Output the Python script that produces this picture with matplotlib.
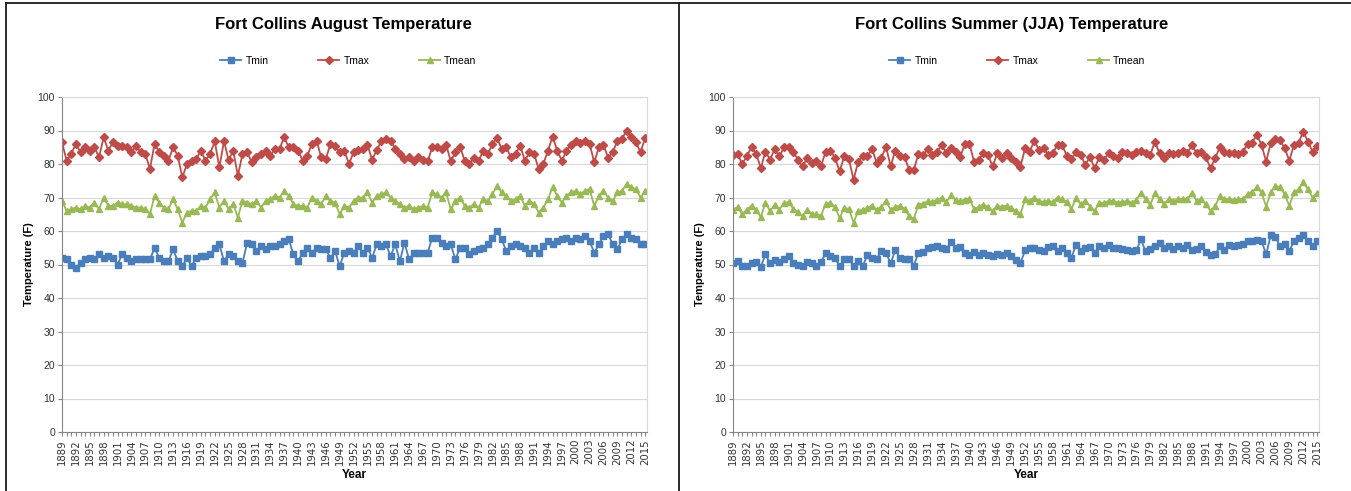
import numpy as np
import matplotlib
matplotlib.use("Agg")
import matplotlib.pyplot as plt
import matplotlib.font_manager as fm
from matplotlib.lines import Line2D

years = list(range(1889, 2016))

# Fort Collins August temperature (F)
aug_tmin = [
    52, 51.5, 50, 49, 50.5, 51.5, 52, 51.5, 53, 52,
    52.5, 52, 50, 53, 52, 51, 51.5, 51.5, 51.5, 51.5,
    55, 52, 51, 51, 54.5, 51, 49.5, 52, 49.5, 52,
    52.5,
    52.5, 53, 55, 56, 51, 53, 52.5, 51, 50.5, 56.5,
    56, 54, 55.5, 54.5, 55.5, 55.5, 56, 57, 57.5, 53,
    51, 53.5, 55, 53.5, 55, 54.5, 54.5, 52, 54, 49.5,
    53.5,
    54, 53.5, 55.5, 53.5, 55, 52, 56, 55.5, 56, 52.5,
    56, 51, 56.5, 51.5, 53.5, 53.5, 53.5, 53.5, 58, 58,
    56.5, 55.5, 56, 51.5, 55, 55, 53, 54, 54.5, 55,
    56, 58, 60, 57.5, 54, 55.5, 56, 55.5, 55, 53.5,
    55, 53.5, 55.5, 57, 56, 57, 57.5, 58, 57, 58,
    57.5, 58.5, 57, 53.5, 56, 58.5, 59, 56, 54.5, 57.5,
    59, 58, 57.5, 56, 56,
]
aug_tmax = [
    86.5, 81, 83, 86, 83.5, 85, 84, 85, 82, 88,
    84, 86.5, 85.5, 85.5, 85, 83.5, 85.5, 83.5, 83, 78.5,
    86, 83.5, 82.5, 81, 85, 82.5, 76, 80, 81, 81.5,
    84,
    81, 83, 86.8, 79, 86.8, 81.2, 84, 76.5, 83, 83.5,
    80.5, 82, 83, 84, 82.5, 84.5, 84.5, 88, 85, 85,
    84, 81, 82.5, 86, 87, 82, 81.5, 86, 85.5, 83.5,
    84,
    80, 83.5, 84.2, 84.5, 85.8, 81.2, 84.2, 86.8, 87.5, 87,
    84.5, 83, 81.5, 82, 80.8, 82.2, 81.2, 80.8, 85, 85.2,
    84.5, 85.8, 80.8, 83.5, 85.2, 81, 80, 81.8, 80.8, 84,
    83, 86, 87.8, 84.5, 85, 82, 83, 85.5, 81, 83.5,
    83, 78.5, 80, 84, 88.2, 84, 81, 84, 85.8, 86.8,
    86.2, 87, 86, 80.5, 85, 85.8, 81.8, 83.5, 87, 87.5,
    90, 88, 86.5, 83.5, 87.8,
]
aug_tmean = [
    69, 66, 66.5, 67, 66.5, 67.5, 67, 68.5, 66.5, 70,
    67.5, 67.5, 68.5, 68, 68, 67.5, 67, 67, 66.5, 65,
    70.5, 68.5, 67, 66.5, 69.5, 66.5, 62.5, 65.5, 66, 66,
    67.5,
    67, 69.5, 71.5, 67, 69, 66.5, 68, 64, 69, 68.5,
    68, 69, 67, 69, 69.5, 70.5, 70, 72, 70.5, 68,
    67.5, 67.5, 67, 70, 69, 68, 70.5, 69, 68.5, 65,
    67.5,
    67, 69, 70, 70, 71.5, 68.5, 70.5, 71, 71.5, 70,
    69, 68, 67, 67.5, 66.5, 67, 67.5, 67, 71.5, 71,
    70, 71.5, 66.5, 69, 70, 67.5, 67, 68, 67, 69.5,
    69, 71, 73.5, 71.5, 70.5, 69, 69.5, 70.5, 67.5, 69,
    68, 65.5, 67, 69.5, 73, 70.5, 68.5, 70.5, 71.5, 72,
    71, 72, 72.5, 67.5, 70.5, 72, 70, 69, 71.5, 72,
    74, 73, 72.5, 70, 72,
]

# Fort Collins summer (JJA) temperature (F)
jja_tmin = [
    50.3, 51, 49.7, 49.5, 50.5, 50.7, 49.3, 53, 50.3, 51.3,
    50.7, 51.5, 52.5, 50.3, 50, 49.7, 50.7, 50.3, 49.5, 50.7,
    53.5, 52.5, 52, 49.5, 51.5, 51.7, 49.5, 51, 49.7, 52.7,
    52, 51.7, 54, 53.5, 50.3, 54.3, 52, 51.7, 51.5, 49.7,
    53.5, 53.7, 55, 55.3, 55.5, 55, 54.5, 56.7, 55, 55.3,
    53.5, 52.7, 53.7, 52.7, 53.5, 52.7, 52.5, 53, 52.7, 53.5,
    52.5, 51.3,
    50.4, 54.2, 54.9, 54.9, 54.4, 53.9, 55.2, 55.4, 53.9, 54.9,
    53.4, 52, 55.9, 53.9, 54.9, 55.2, 53.4, 55.6, 54.9, 55.9,
    54.9, 54.9, 54.6, 54.4, 53.9, 54.2, 57.5, 53.9, 54.6, 55.4,
    56.5, 54.9, 55.6, 54.6, 55.4, 54.9, 55.9, 54.4, 54.6, 55.4,
    53.7, 52.7, 53, 55.4, 54.4, 55.9, 55.6, 55.9, 56.2, 56.9,
    57.1, 57.4, 57.1, 53, 58.8, 58.3, 55.4, 56.2, 53.9, 57.1,
    57.8, 58.8, 57.1, 55.4, 57.1,
]
jja_tmax = [
    82.7, 83, 80, 82.5, 85, 83, 78.8, 83.7, 81.3, 84.5,
    82.3, 85, 85, 83.7, 81.3, 79.3, 81.8, 80.3, 81, 79.5,
    83.7, 84, 81.8, 77.8, 82.3, 81.5, 75.3, 80.7, 82.5, 82.3,
    84.5, 80.3, 81.8, 85.2, 79.3, 84, 82.5, 82, 78.3, 78.3,
    83, 82.7, 84.5, 82.7, 83.7, 85.7, 83.2, 84.7, 83.7, 82,
    86, 86, 80.7, 81.3, 83.2, 82.7, 79.3, 83.2, 81.8, 83.2,
    81.8, 80.5,
    79.2, 84.7, 83.7, 87, 84.2, 84.7, 82.7, 83.4, 85.7, 85.7,
    82.4, 81.4, 83.7, 82.7, 79.7, 82.2, 78.7, 82, 81.2, 83.2,
    82.4, 81.7, 83.7, 83.2, 82.7, 83.7, 84, 83.2, 82.7, 86.7,
    83.2, 81.7, 83.2, 83, 83.4, 84, 83.2, 85.7, 83.2, 83.7,
    82, 78.7, 81.7, 85, 83.7, 83.2, 83.2, 83, 83.7, 86,
    86.4, 88.7, 85.7, 80.7, 86.4, 87.4, 87.2, 84.7, 81, 85.7,
    86.4, 89.7, 86.7, 83.7, 85.4,
]
jja_tmean = [
    66.4, 67.2, 65, 66.4, 67.6, 66.2, 64.2, 68.4, 65.9, 67.9,
    66.4, 68.4, 68.6, 66.6, 65.6, 64.4, 66.4, 65, 65, 64.6,
    68.2, 68.4, 67.2, 63.9, 66.9, 66.6, 62.5, 65.9, 66.4, 66.9,
    67.6, 66.4, 67.2, 68.9, 66.4, 67.2, 67.6, 66.6, 64.4, 63.6,
    67.9, 68.2, 68.9, 68.6, 69.4, 69.9, 68.6, 70.6, 69.2, 68.9,
    69.4, 69.6, 66.6, 67.2, 67.9, 67.2, 65.9, 67.6, 67.2, 67.6,
    66.9, 65.9,
    65, 69.5, 69, 70, 69, 68.7, 69, 68.7, 70, 69.5,
    68.7, 66.5, 70, 68, 69, 67.3, 66, 68.5, 68.3, 69,
    69, 68.5, 68.7, 69, 68.5, 69.3, 71.4, 69.5, 67.7, 71.4,
    69.5, 68, 69.5, 69, 69.5, 69.7, 69.5, 71.3, 69, 69.5,
    68, 66, 67.5, 70.3, 69.5, 69.5, 69.3, 69.5, 69.5, 71,
    71.7, 73, 71.5, 67.3, 71.5, 73.5, 73, 71, 67.5, 71.5,
    72.5, 74.5, 72.5, 70, 71.3,
]

label_years = years[::3]

names = {f.name for f in fm.fontManager.ttflist}
narrow = "Liberation Sans Narrow" if "Liberation Sans Narrow" in names else "Liberation Sans"

W, H = 1351, 491
fig = plt.figure(figsize=(W / 100, H / 100), dpi=100)
fig.patch.set_facecolor("white")

blue, red, green = "#4A7EBB", "#BE4B48", "#98B954"


def draw_panel(left_px, right_px, cx_px, title, tmin, tmax, tmean):
    ax = fig.add_axes([left_px / W, 1 - 432 / H, (right_px - left_px) / W, 335 / H])
    ax.plot(years, tmin, color=blue, lw=1.3, marker="s", ms=4.2, label="Tmin")
    ax.plot(years, tmax, color=red, lw=1.3, marker="D", ms=3.8, label="Tmax")
    ax.plot(years, tmean, color=green, lw=1.3, marker="^", ms=4.8, label="Tmean")

    ax.set_xlim(1889, 2015.4)
    ax.set_ylim(0, 100)
    ax.set_yticks(range(0, 101, 10))
    ax.set_xticks(label_years)
    ax.set_xticks(years, minor=True)
    ax.set_xticklabels([str(y) for y in label_years], rotation=90, fontsize=7.3,
                       color="#333333", family="DejaVu Sans")
    for lab in ax.get_yticklabels():
        lab.set_fontsize(7.5)
        lab.set_color("#333333")
        lab.set_family(narrow)
    ax.tick_params(axis="both", which="both", length=3, width=0.8, color="#868686", pad=2)

    ax.yaxis.grid(True, color="#D9D9D9", lw=0.8)
    ax.set_axisbelow(True)
    for s in ("left", "bottom"):
        ax.spines[s].set_color("#868686")
        ax.spines[s].set_linewidth(0.8)
    for s in ("top", "right"):
        ax.spines[s].set_color("#D9D9D9")
        ax.spines[s].set_linewidth(0.8)

    ax.text(-0.057, 0.5, "Temperature (F)", transform=ax.transAxes, rotation=90,
            ha="center", va="center", fontsize=8, fontweight="bold", family=narrow)
    ax.text(0.5, -0.128, "Year", transform=ax.transAxes, ha="center", va="center",
            fontsize=8.5, fontweight="bold", family=narrow)

    fig.text(cx_px / W, 1 - 24 / H, title, ha="center", va="center", fontsize=12,
             fontweight="bold", family=narrow)
    ax.legend(loc="center", bbox_to_anchor=(cx_px / W + 0.004, 1 - 61 / H),
              bbox_transform=fig.transFigure, ncol=3, frameon=False,
              prop={"family": narrow, "size": 7.5}, handlelength=2.0,
              handletextpad=0.4, columnspacing=4.8)
    return ax


draw_panel(62, 647, 343, "Fort Collins August Temperature", aug_tmin, aug_tmax, aug_tmean)
draw_panel(733, 1319, 1012, "Fort Collins Summer (JJA) Temperature", jja_tmin, jja_tmax, jja_tmean)

# chart frames
frame = dict(color="#1a1a1a", lw=1.3, transform=fig.transFigure)
fig.add_artist(Line2D([6 / W, 1], [1 - 3 / H, 1 - 3 / H], **frame))
fig.add_artist(Line2D([6 / W, 6 / W], [0, 1 - 3 / H], **frame))
fig.add_artist(Line2D([679 / W, 679 / W], [0, 1 - 3 / H], **frame))

fig.savefig("out.png", dpi=100, facecolor="white")
